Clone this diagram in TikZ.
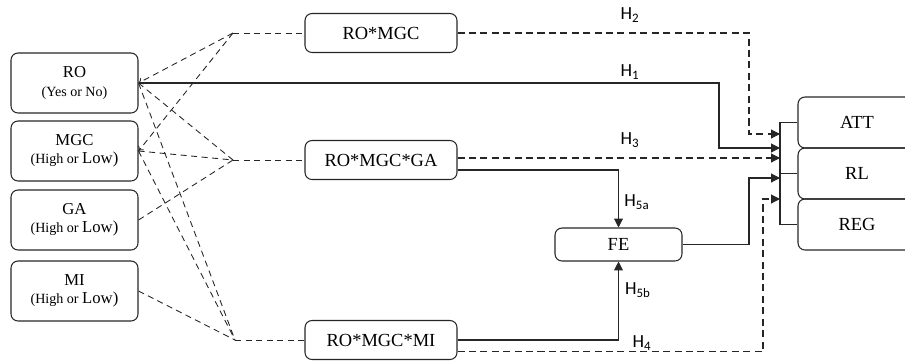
\documentclass[tikz,border=0pt]{standalone}
\usepackage{fontspec}
\setmainfont{Liberation Serif}
\newfontfamily\hypfont{Carlito}
\usetikzlibrary{arrows.meta, calc}

\begin{document}
\begin{tikzpicture}[
  font=\fontsize{10.5}{12}\selectfont,
  box/.style={draw=black!85, line width=0.6pt, rounded corners=4pt, align=center, inner sep=2pt},
  var/.style={box, minimum width=2.54cm, minimum height=1.2cm, font=\fontsize{9.5}{10.5}\selectfont},
  inter/.style={box, minimum width=3.04cm, minimum height=0.78cm},
  med/.style={box, minimum width=2.54cm, minimum height=0.66cm},
  outc/.style={box, minimum width=2.36cm, minimum height=1.02cm},
  arrow/.style={-{Triangle[length=5pt, width=5pt]}, line width=0.6pt, draw=black!85},
  dashed-arrow/.style={arrow, dash pattern=on 4pt off 2.5pt},
  link/.style={line width=0.5pt, draw=black!85, dash pattern=on 3.5pt off 2.5pt},
  back/.style={link, -{To[length=2.5pt, width=4pt]}},
  bracket/.style={line width=0.6pt, draw=black!85},
  hyp/.style={font=\hypfont\fontsize{10.5}{12}\selectfont, inner sep=1pt},
  small/.style={font=\fontsize{8}{9}\selectfont}
]

\useasboundingbox (0,0) rectangle (18.1,-7.26);
\clip (0,0) rectangle (18.1,-7.26);

% === VARIABLES (left column) ===
\node[var] (ro)  at (1.49,-1.66) {RO\\{\fontsize{8}{9}\selectfont (Yes or No)}};
\node[var] (mgc) at (1.49,-3.02) {MGC\\{\fontsize{8}{9}\selectfont (High or }Low)};
\node[var] (ga)  at (1.49,-4.40) {GA\\{\fontsize{8}{9}\selectfont (High or }Low)};
\node[var] (mi)  at (1.49,-5.82) {MI\\{\fontsize{8}{9}\selectfont (High or }Low)};

% === INTERACTION TERMS ===
\node[inter] (romgc)   at (7.62,-0.66) {RO*MGC};
\node[inter] (romgcga) at (7.62,-3.20) {RO*MGC*GA};
\node[inter] (romgcmi) at (7.62,-6.80) {RO*MGC*MI};

% junctions of the dashed links
\coordinate (j1) at (4.66,-0.66);
\coordinate (j2) at (4.66,-3.20);
\coordinate (j3) at (4.70,-6.80);

% === MEDIATOR AND OUTCOMES ===
\node[med]  (fe)  at (12.37,-4.89) {FE};
\node[outc] (att) at (17.14,-2.45) {ATT};
\node[outc] (rl)  at (17.14,-3.47) {RL};
\node[outc] (reg) at (17.14,-4.49) {REG};

% bracket in front of the outcomes
\coordinate (br) at (15.6,0);
\draw[bracket] (att.west) -- (att.west -| br) -- (reg.west -| br) -- (reg.west);
\draw[bracket] (rl.west) -- (rl.west -| br);

% arrow ends on the bracket
\coordinate (in2) at (15.6,-2.68);
\coordinate (in1) at (15.6,-2.96);
\coordinate (in3) at (15.6,-3.16);
\coordinate (in5) at (15.6,-3.56);
\coordinate (in4) at (15.6,-3.98);

% Dashed links from the variables
\draw[back] (j1) -- (ro.east);
\draw[back] (j1) -- (mgc.east);
\draw[link] (j1) -- (romgc.west);
\draw[link] (ro.east)  -- (j2);
\draw[link] (mgc.east) -- (j2);
\draw[link] (ga.east)  -- (j2);
\draw[link] (j2) -- (romgcga.west);
\draw[link] (ro.east)  -- (j3);
\draw[link] (mgc.east) -- (j3);
\draw[link] (mi.east)  -- (j3);
\draw[link] (j3) -- (romgcmi.west);

% Hypothesis paths
\draw[dashed-arrow] (romgc.east) -| ([xshift=-0.62cm]in2) -- (in2);
\draw[arrow] (ro.east) -| ([xshift=-1.22cm]in1) -- (in1);
\draw[dashed-arrow] (romgcga.east |- in3) -- (in3);
\draw[arrow] ([yshift=-0.2cm]romgcga.east) -| (fe.north);
\draw[arrow] (romgcmi.east) -| (fe.south);
\draw[arrow] (fe.east) -| ([xshift=-0.62cm]in5) -- (in5);
\draw[dashed-arrow] ([yshift=-0.23cm]romgcmi.east) -| ([xshift=-0.34cm]in4) -- (in4);

% Labels
\node[hyp] (h2)  at (12.60,-0.30) {H\textsubscript{2}};
\node[hyp] (h1)  at (12.60,-1.44) {H\textsubscript{1}};
\node[hyp] (h3)  at (12.60,-2.80) {H\textsubscript{3}};
\node[hyp] (h5a) at (12.74,-4.04) {H\textsubscript{5a}};
\node[hyp] (h5b) at (12.76,-5.80) {H\textsubscript{5b}};
\node[hyp] (h4)  at (12.84,-6.86) {H\textsubscript{4}};

\end{tikzpicture}
\end{document}
